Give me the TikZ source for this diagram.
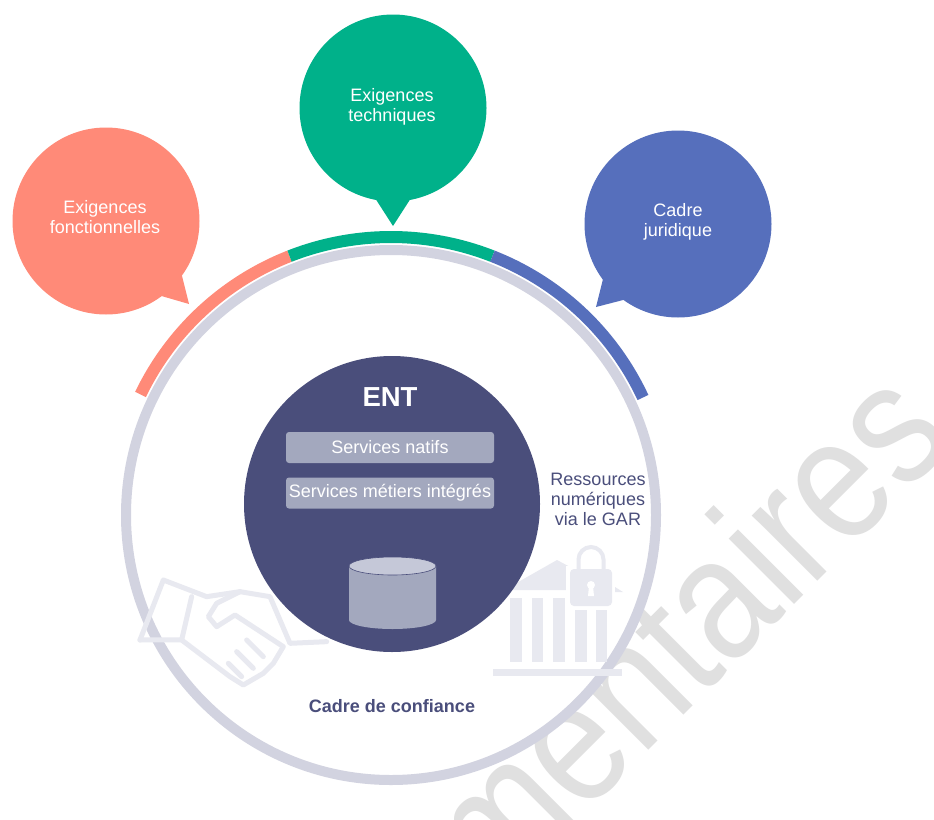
\documentclass[tikz,border=0pt]{standalone}
\usepackage{fontspec}
\setmainfont{Liberation Sans}
\definecolor{cred}{HTML}{FF8A78}
\definecolor{cgreen}{HTML}{00B18A}
\definecolor{cblue}{HTML}{566FBC}
\definecolor{cnavy}{HTML}{4A4E7B}
\definecolor{cring}{HTML}{D2D3E0}
\definecolor{cbox}{HTML}{A3A8BE}
\definecolor{ctop}{HTML}{C5C8D8}
\definecolor{cicon}{HTML}{E8E9F0}
\definecolor{cmark}{HTML}{E0E0E0}
\newcommand{\fs}[1]{\fontsize{#1}{20pt}\selectfont}
\tikzset{
  bubble/.style={circle,minimum size=187pt,inner sep=0pt},
  bubbletext/.style={text=white,align=center,font=\fs{18}},
  colarc/.style={line width=12pt,line cap=butt},
  iconline/.style={draw=cicon,line width=5pt,line join=round,line cap=round},
  servicebox/.style={fill=cbox,rounded corners=3pt,minimum width=208pt,minimum height=31pt,inner sep=0pt,text=white,font=\fs{18}},
}
\begin{document}
\begin{tikzpicture}[x=1pt,y=-1pt]
\useasboundingbox (0,0) rectangle (934,819);
\clip (0,0) rectangle (934,819);
\fill[white] (0,0) rectangle (934,819);
% watermark
\node[rotate=45,xscale=0.85,anchor=base west,inner sep=0pt,text=cmark,font=\fontsize{175}{175}\selectfont] (mark) at (495,904) {mentaires};
% ring
\node[circle,fill=white,draw=cring,line width=10pt,minimum size=530pt,inner sep=0pt] (ring) at (391,515) {};
% handshake icon
\begin{scope}[shift={(120,500)},x=0.3333pt,y=-0.3333pt]
\draw[iconline] (60,420) -- (130,240) -- (260,290) -- (360,275) -- (450,290) -- (510,430) -- (620,425);
\draw[iconline] (215,290) -- (185,420);
\draw[iconline] (60,420) -- (185,420) -- (330,530) -- (370,555) -- (430,520) -- (460,490) -- (490,440) -- (345,345) -- (290,380) -- (265,350) -- (290,310) -- (360,275);
\draw[iconline] (380,420) -- (430,470);
\draw[iconline] (350,455) -- (400,505);
\draw[iconline] (325,490) -- (365,530);
\end{scope}
% bank icon
\fill[cicon] (513,590) -- (513,585) -- (557,560) -- (572,568) -- (570,590) -- cycle;
\foreach \a/\b in {510/521.7,531.7/543,552.7/565,575/586.7,596/606.7}
  \fill[cicon] (\a,598) rectangle (\b,662);
\fill[cicon] (493,669) rectangle (622,676);
\fill[white] (566,566) rectangle (616,610);
\fill[cicon,rounded corners=4pt] (570,569) rectangle (612,606);
\begin{scope}[shift={(591,559.5)},y=1pt]
\draw[cicon,line width=4pt] (-12.5,-12) -- (-12.5,0) arc[start angle=180,end angle=0,radius=12.5pt] -- (12.5,-12);
\end{scope}
\fill[white] (591,585) circle[radius=4pt];
\fill[white] (589,586) -- (593,586) -- (594,596) -- (588,596) -- cycle;
\fill[cicon] (615,587) -- (623,592) -- (615,592) -- cycle;
% coloured arcs
\begin{scope}[shift={(391,515)},y=1pt]
\draw[colarc,cred] (154.3:278) arc[start angle=154.3,end angle=111.4,radius=278pt];
\draw[colarc,cgreen] (111.4:278) arc[start angle=111.4,end angle=68.6,radius=278pt];
\draw[colarc,cblue] (68.6:278) arc[start angle=68.6,end angle=25,radius=278pt];
\end{scope}
% bubbles
\node[bubble,fill=cred] (bred) at (106,221) {};
\fill[cred] (181,272) -- (189,304) -- (158,295) -- cycle;
\node[bubbletext] (tred) at (105,217) {Exigences\\fonctionnelles};
\node[bubble,fill=cgreen] (bgreen) at (393,108) {};
\fill[cgreen] (375,198) -- (393,226) -- (411,198) -- cycle;
\node[bubbletext] (tgreen) at (392,107) {Exigences\\techniques};
\node[bubble,fill=cblue] (bblue) at (678,224) {};
\fill[cblue] (604,275) -- (596,307) -- (627,299) -- cycle;
\node[bubbletext] (tblue) at (678,222) {Cadre\\juridique};
% ENT
\node[circle,fill=cnavy,minimum size=296pt,inner sep=0pt] (ent) at (392,504) {};
\node[text=white,font=\fs{27.5}\bfseries] (enttitle) at (390,397) {ENT};
\node[servicebox] (s1) at (390,447.5) {Services natifs};
\node[servicebox] (s2) at (390,493) {Services métiers intégrés};
% cylinder
\begin{scope}[shift={(392.5,566)},y=1pt]
\fill[cbox] (-43.5,0) -- (-43.5,-54) arc[start angle=180,end angle=360,x radius=43.5pt,y radius=9pt] -- (43.5,0) -- cycle;
\draw[fill=ctop,draw=cnavy,line width=0.6pt] (0,0) ellipse[x radius=43.5pt,y radius=9pt];
\end{scope}
% labels
\node[text=cnavy,align=center,font=\fs{18}] (gar) at (598,499) {Ressources\\numériques\\via le GAR};
\node[text=cnavy,font=\fs{18}\bfseries] (confiance) at (392,706) {Cadre de confiance};
\end{tikzpicture}
\end{document}
